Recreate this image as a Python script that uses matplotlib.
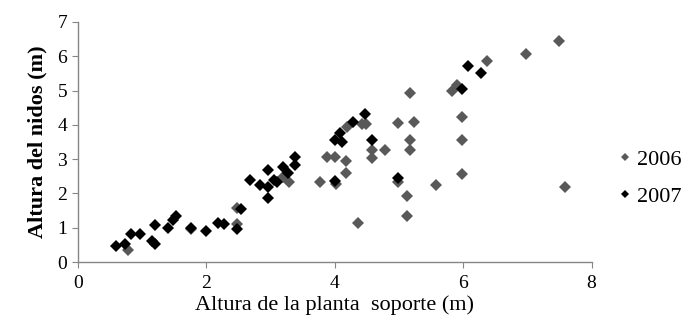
import matplotlib.pyplot as plt

plt.rcParams['font.family'] = ['Liberation Serif', 'DejaVu Serif']

# 2006 nests (gray)
x2006 = [0.79, 1.76, 2.48, 2.48, 3.19, 3.29, 3.77, 3.88, 4.00, 4.02, 4.18, 4.18,
         4.19, 4.42, 4.49, 4.37, 4.59, 4.59, 4.78, 4.98, 5.24, 5.18, 5.18, 5.18,
         4.98, 5.12, 5.12, 5.58, 5.83, 5.91, 5.99, 5.99, 5.99, 6.37, 6.98, 7.49, 7.58]
y2006 = [0.35, 0.97, 1.58, 1.10, 2.49, 2.34, 2.34, 3.07, 3.07, 2.27, 2.94, 2.59,
         3.94, 4.04, 4.04, 1.13, 3.27, 3.04, 3.28, 4.06, 4.09, 4.94, 3.56, 3.27,
         2.34, 1.92, 1.34, 2.24, 4.99, 5.16, 4.24, 3.56, 2.57, 5.86, 6.08, 6.44, 2.20]

# 2007 nests (black)
x2007 = [0.59, 0.74, 0.83, 0.97, 1.15, 1.20, 1.20, 1.41, 1.49, 1.53, 1.76, 1.99,
         2.18, 2.28, 2.48, 2.54, 2.68, 2.84, 2.97, 2.97, 2.97, 3.05, 3.10, 3.19,
         3.28, 3.39, 3.39, 4.00, 4.00, 4.09, 4.11, 4.28, 4.48, 4.59, 4.98, 5.99,
         6.08, 6.28]
y2007 = [0.48, 0.54, 0.81, 0.82, 0.60, 0.52, 1.08, 0.98, 1.22, 1.35, 1.00, 0.90,
         1.13, 1.10, 0.95, 1.56, 2.39, 2.24, 2.68, 2.20, 1.86, 2.39, 2.34, 2.76,
         2.59, 3.07, 2.83, 2.37, 3.56, 3.75, 3.51, 4.07, 4.31, 3.56, 2.44, 5.04,
         5.71, 5.50]

fig = plt.figure(figsize=(7, 3.28), dpi=100)
ax = fig.add_axes([0.111, 0.201, 0.734, 0.732])

ax.plot(x2006, y2006, 'D', color='#595959', markersize=6.5, markeredgewidth=0, label='2006')
ax.plot(x2007, y2007, 'D', color='black', markersize=6.5, markeredgewidth=0, label='2007')

ax.set_xlim(0, 8)
ax.set_ylim(0, 7)
ax.set_xticks([0, 2, 4, 6, 8])
ax.set_yticks(range(8))

for s in ['top', 'right']:
    ax.spines[s].set_visible(False)
for s in ['left', 'bottom']:
    ax.spines[s].set_color('#868686')
    ax.spines[s].set_linewidth(1)
ax.tick_params(direction='out', length=4, color='#868686', labelsize=14)
ax.tick_params(axis='x', pad=5)

ax.set_xlabel('Altura de la planta  soporte (m)', fontsize=16, labelpad=3)
ax.set_ylabel('Altura del nidos (m)', fontsize=16, fontweight='bold', labelpad=7)

ax.legend(loc='center left', bbox_to_anchor=(1.005, 0.35), frameon=False,
          fontsize=16, handletextpad=0.05, markerscale=0.7, handlelength=1.0,
          labelspacing=0.75)

fig.savefig('out.png', dpi=100)
